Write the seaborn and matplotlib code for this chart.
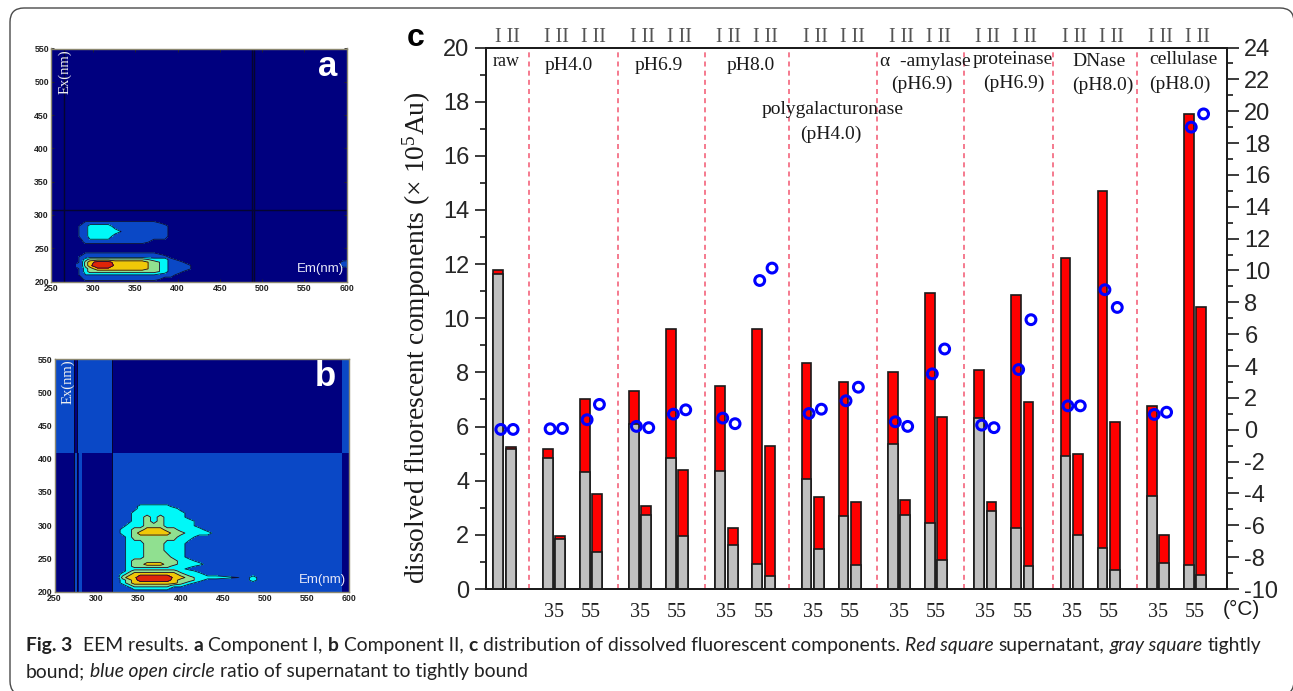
import numpy as np
import pandas as pd
import matplotlib
matplotlib.use('Agg')
import matplotlib.pyplot as plt
import seaborn as sns
from matplotlib.colors import ListedColormap
from matplotlib.patches import FancyBboxPatch
from matplotlib.transforms import IdentityTransform, blended_transform_factory

W, H = 1293, 691

# panel c, one pair of bars per temperature, I and II
pairs_in_group = [1, 2, 2, 2, 2, 2, 2, 2, 2]
temp_labels = ['', '35', '55', '35', '55', '35', '55', '35', '55', '35', '55', '35', '55', '35', '55', '35', '55']
bar_total = [11.78, 5.26, 5.17, 1.97, 7.02, 3.50, 7.30, 3.07, 9.59, 4.38, 7.50, 2.24, 9.59, 5.30,
             8.34, 3.41, 7.64, 3.23, 8.00, 3.27, 10.94, 6.37, 8.08, 3.23, 10.87, 6.91,
             12.22, 4.98, 14.70, 6.15, 6.75, 2.00, 17.55, 10.40]
bar_gray = [11.62, 5.17, 4.82, 1.85, 4.33, 1.35, 6.10, 2.75, 4.85, 1.96, 4.35, 1.63, 0.92, 0.47,
            4.07, 1.48, 2.70, 0.87, 5.36, 2.75, 2.42, 1.06, 6.31, 2.89, 2.26, 0.86,
            4.91, 2.00, 1.50, 0.70, 3.43, 0.95, 0.87, 0.50]
ratio = [0.02, 0.02, 0.06, 0.08, 0.63, 1.59, 0.21, 0.13, 0.98, 1.25, 0.73, 0.38, 9.37, 10.15,
         1.02, 1.29, 1.82, 2.67, 0.50, 0.21, 3.51, 5.07, 0.29, 0.13, 3.78, 6.91,
         1.50, 1.50, 8.79, 7.68, 0.96, 1.10, 19.00, 19.83]
separators = [2.5, 9.7, 16.8, 23.6, 30.7, 37.8, 45.0, 51.8]

em_a = [280, 286, 291, 296, 305, 318, 326, 340, 358, 372, 385, 392, 402, 411, 420, 586, 590, 596, 600]
ex_a = [200, 203, 210, 215, 219, 224, 229, 233, 237, 241, 245, 255, 259, 268, 275, 283, 288, 292]
eem_a = [
    [0, 0, 0, 0, 0, 0, 0, 0, 0, 0, 0, 0, 0, 0, 0, 0, 0, 0, 0],
    [0, 0, 1, 1, 1, 1, 1, 1, 1, 1, 0, 0, 0, 0, 0, 0, 0, 0, 0],
    [0, 1, 1.5, 1.5, 1.5, 1.5, 1.5, 1.5, 1.5, 1.5, 1, 1, 0, 0, 0, 0, 0, 0, 0],
    [0, 1, 2, 3, 3, 3, 3, 3, 3, 3, 2, 1, 1, 0, 0, 0, 0, 0, 0],
    [0, 1, 2, 3, 4, 4, 4, 4, 4, 3, 2, 1, 1, 1, 0, 0, 0, 0, 0],
    [1, 1, 3, 4, 6, 6, 4, 4, 4, 3, 2, 1, 1, 1, 0, 0, 0, 1, 1],
    [0, 1, 3, 4, 5, 5, 4, 4, 4, 3, 2, 1, 1, 0, 0, 0, 0, 1, 1],
    [0, 1, 2, 3, 3, 3, 3, 3, 3, 2, 2, 1, 0, 0, 0, 0, 0, 0, 0],
    [0, 1, 1, 1, 1, 1, 1, 1, 1, 1, 1, 0, 0, 0, 0, 0, 0, 0, 0],
    [0, 0, 1, 1, 1, 1, 1, 1, 1, 1, 0, 0, 0, 0, 0, 0, 0, 0, 0],
    [0, 0, 0, 0, 0, 0, 0, 0, 0, 0, 0, 0, 0, 0, 0, 0, 0, 0, 0],
    [0, 0, 0, 0, 0, 0, 0, 0, 0, 0, 0, 0, 0, 0, 0, 0, 0, 0, 0],
    [0, 0, 1, 1, 1, 1, 1, 1, 1, 0, 0, 0, 0, 0, 0, 0, 0, 0, 0],
    [0, 1, 1, 2, 2, 2, 1, 1, 1, 1, 1, 0, 0, 0, 0, 0, 0, 0, 0],
    [0, 1, 1, 2, 2, 2, 2, 1, 1, 1, 1, 0, 0, 0, 0, 0, 0, 0, 0],
    [0, 1, 1, 2, 2, 2, 1, 1, 1, 1, 1, 0, 0, 0, 0, 0, 0, 0, 0],
    [0, 0, 1, 1, 1, 1, 1, 1, 1, 1, 0, 0, 0, 0, 0, 0, 0, 0, 0],
    [0, 0, 0, 0, 0, 0, 0, 0, 0, 0, 0, 0, 0, 0, 0, 0, 0, 0, 0],
]

# panel b, same idea, zero is the blue background
em_b = [325, 331, 338, 345, 352, 360, 368, 376, 384, 392, 400, 410, 422, 432, 442, 480, 486, 492]
ex_b = [200, 205, 209, 213, 217, 221, 226, 231, 234, 238, 241, 246, 252, 262, 272, 282, 288,
        293, 299, 306, 312, 318, 325, 328, 333]
eem_b = [
    [0, 0, 0, 0, 0, 0, 0, 0, 0, 0, 0, 0, 0, 0, 0, 0, 0, 0],
    [0, 0, 0, 1, 1, 1, 1, 1, 1, 0, 0, 0, 0, 0, 0, 0, 0, 0],
    [0, 0, 1, 2, 2, 2, 2, 2, 2, 1, 1, 0, 0, 0, 0, 0, 0, 0],
    [0, 1, 2, 3, 3, 3, 3, 3, 3, 3, 2, 1, 0, 0, 0, 0, 0, 0],
    [0, 1, 2, 3, 4, 4, 4, 4, 4, 3, 2, 2, 1, 0, 0, 0.3, 1, 0.3],
    [0, 2, 3, 3, 5, 5, 5, 5, 5, 3, 3, 2, 1, 1, 1, 0.3, 1, 0.3],
    [0, 1, 2, 3, 3, 3, 3, 3, 3, 3, 2, 1, 1, 0, 0, 0, 0, 0],
    [0, 0, 1, 2, 2, 2, 2, 2, 2, 2, 1, 1, 0, 0, 0, 0, 0, 0],
    [0, 0, 1, 1, 1, 1, 1, 1, 1, 1, 1, 0, 0, 0, 0, 0, 0, 0],
    [0, 0, 1, 2, 2, 2, 2, 2, 2, 1, 1, 1, 0, 0, 0, 0, 0, 0],
    [0, 0, 1, 2, 2, 3, 3, 3, 2, 2, 1, 1, 1, 0, 0, 0, 0, 0],
    [0, 0, 1, 2, 2, 2, 2, 2, 2, 2, 1, 1, 0, 0, 0, 0, 0, 0],
    [0, 0, 1, 1, 1, 2, 2, 2, 2, 1, 1, 0, 0, 0, 0, 0, 0, 0],
    [0, 0, 1, 1, 1, 2, 2, 2, 1, 1, 1, 0, 0, 0, 0, 0, 0, 0],
    [0, 0, 1, 1, 1, 2, 2, 2, 1, 1, 1, 0, 0, 0, 0, 0, 0, 0],
    [0, 0, 1, 2, 2, 2, 2, 2, 2, 2, 1, 1, 0, 0, 0, 0, 0, 0],
    [0, 1, 1, 2, 3, 3, 3, 3, 3, 2, 2, 1, 1, 1, 0, 0, 0, 0],
    [0, 1, 1, 2, 2, 3, 3, 3, 2, 2, 1, 1, 1, 0, 0, 0, 0, 0],
    [0, 0, 1, 1, 1, 2, 2, 2, 1, 1, 1, 1, 0, 0, 0, 0, 0, 0],
    [0, 0, 0, 1, 1, 2, 1, 2, 1, 1, 1, 1, 0, 0, 0, 0, 0, 0],
    [0, 0, 0, 1, 1, 2, 1, 2, 1, 1, 1, 0, 0, 0, 0, 0, 0, 0],
    [0, 0, 0, 1, 1, 1, 1, 1, 1, 1, 1, 0, 0, 0, 0, 0, 0, 0],
    [0, 0, 0, 0, 1, 1, 1, 1, 1, 1, 0, 0, 0, 0, 0, 0, 0, 0],
    [0, 0, 0, 0, 1, 1, 1, 1, 1, 0, 0, 0, 0, 0, 0, 0, 0, 0],
    [0, 0, 0, 0, 0, 0, 0, 0, 0, 0, 0, 0, 0, 0, 0, 0, 0, 0],
]

# blocks behind the contours of panel b
block_em = [250, 273.4, 277.3, 279.7, 282.5, 318, 591.2, 600]
block_ex = [200, 408, 550]
block_on = [[0, 1, 0, 1, 0, 1, 0],
            [1, 0, 1, 1, 1, 0, 1]]

NAVY = '#00007f'
BLUE = '#0a48c6'
CYAN = '#00f8f8'
GREEN = '#90e090'
YELLOW = '#f0c808'
RED_EEM = '#e02408'
SERIF = 'Liberation Serif'
SANS = 'Liberation Sans'

sns.set_theme(style='ticks')
plt.rcParams['font.family'] = SANS
plt.rcParams['mathtext.default'] = 'regular'
plt.rcParams['axes.unicode_minus'] = False

fig = plt.figure(figsize=(W / 100, H / 100), dpi=100, facecolor='white')


def add_axes_px(left, top, right, bottom):
    return fig.add_axes([left / W, 1 - bottom / H, (right - left) / W, (bottom - top) / H])


def text_px(x, y, s, **kw):
    kw.setdefault('ha', 'center')
    kw.setdefault('va', 'center')
    return fig.text(x / W, 1 - y / H, s, **kw)


# card frame around the figure
frame = FancyBboxPatch((22, H - 683), 1260, 663, boxstyle='round,pad=12,rounding_size=14',
                       transform=IdentityTransform(), fc='none', ec='#4a4a4a', lw=1.0, clip_on=False)
fig.add_artist(frame)


def style_eem(ax):
    ax.set_xlim(250, 600)
    ax.set_ylim(200, 550)
    ax.set_xticks(np.arange(250, 601, 50))
    ax.set_yticks(np.arange(200, 551, 50))
    ax.tick_params(direction='in', length=2, width=0.6, labelsize=6.3, pad=1.5, color='#222222', top=True, right=True)
    for lab in ax.get_xticklabels() + ax.get_yticklabels():
        lab.set_fontweight('bold')
        lab.set_color('#222222')
    for sp in ax.spines.values():
        sp.set_color('#8c8870')
        sp.set_linewidth(1.0)
    ax.set_xlabel('')
    ax.set_ylabel('')


# panel a
ax_a = add_axes_px(51, 48.5, 346.5, 281.5)
ax_a.set_facecolor(NAVY)
ax_a.contourf(em_a, ex_a, eem_a, levels=[0.5, 1.5, 2.5, 3.5, 4.5, 99],
              colors=[BLUE, CYAN, GREEN, YELLOW, RED_EEM])
ax_a.contour(em_a, ex_a, eem_a, levels=[0.5, 1.5, 2.5, 3.5, 4.5], colors='#101030', linewidths=0.6)
ax_a.axvline(265.4, color='#050530', lw=1.0)
ax_a.axvline(487.5, color='#050530', lw=1.0)
ax_a.axvline(490.7, color='#050530', lw=1.0)
ax_a.axhline(307.5, color='#050530', lw=1.0)
style_eem(ax_a)
text_px(328, 66, 'a', color='white', fontweight='bold', fontsize=25)
text_px(64.5, 72, 'Ex(nm)', color='#f0f0f0', family=SERIF, rotation=90, fontsize=10.5)
text_px(320.5, 269, 'Em(nm)', color='#e8e8f8', fontsize=9.5)

# panel b
ax_b = add_axes_px(54.5, 359, 349, 591.5)
ax_b.pcolormesh(block_em, block_ex, block_on, cmap=ListedColormap([NAVY, BLUE]), vmin=0, vmax=1)
ax_b.contourf(em_b, ex_b, eem_b, levels=[0.5, 1.5, 2.5, 3.5, 99], colors=[CYAN, GREEN, YELLOW, RED_EEM])
ax_b.contour(em_b, ex_b, eem_b, levels=[0.5, 1.5, 2.5, 3.5], colors='#101030', linewidths=0.6)
ax_b.axvline(273.4, color='#050530', lw=0.7)
ax_b.axvline(277.3, color='#050530', lw=0.7)
ax_b.axvline(318, color='#050530', lw=0.7)
style_eem(ax_b)
text_px(325.5, 377, 'b', color='white', fontweight='bold', fontsize=25)
text_px(68, 382, 'Ex(nm)', color='#f0f0f0', family=SERIF, rotation=90, fontsize=10.5)
text_px(322.5, 580, 'Em(nm)', color='#e8e8f8', fontsize=9.5)

# panel c, bar slots: 1 within a pair, 3 between pairs, 4 between groups
positions = []
pair_centres = []
slot = 0
for n_pairs in pairs_in_group:
    for i in range(n_pairs):
        positions += [slot, slot + 1]
        pair_centres.append(slot + 0.5)
        slot += 3
    slot += 1

df = pd.DataFrame({'pos': positions, 'total': bar_total, 'gray': bar_gray, 'ratio': ratio})

ax = add_axes_px(486, 47.5, 1227, 589)
sns.barplot(data=df, x='pos', y='total', native_scale=True, width=0.8, color='#ff0000', saturation=1,
            edgecolor='#1a1a1a', linewidth=1.2, errorbar=None, ax=ax, zorder=2)
sns.barplot(data=df, x='pos', y='gray', native_scale=True, width=0.8, color='#c0c0c0', saturation=1,
            edgecolor='#1a1a1a', linewidth=1.2, errorbar=None, ax=ax, zorder=3)
for x in separators:
    ax.axvline(x, color='#f4647c', lw=1.2, dashes=(3, 2.5), zorder=1)

ax.set_xlim(-1, 59.1)
ax.set_ylim(0, 20)
ax.set_xlabel('')
ax.set_ylabel('')
ax.set_xticks(pair_centres)
ax.set_xticklabels(temp_labels, family=SERIF, fontsize=14.5, color='#222222')
ax.tick_params(axis='x', length=0, pad=10)
ax.set_yticks(np.arange(0, 21, 2))
ax.set_yticks(np.arange(0, 21, 1), minor=True)
ax.tick_params(axis='y', which='major', length=8, width=1.2, labelsize=17, pad=4, color='#1a1a1a')
ax.tick_params(axis='y', which='minor', length=4.5, width=1.2, color='#1a1a1a')

ax2 = ax.twinx()
sns.scatterplot(x=df['pos'] + 0.2, y=df['ratio'], ax=ax2, s=50, marker='o', color='#0000ff', linewidth=2.2,
                zorder=5, clip_on=False, legend=False)
ax2.collections[0].set_facecolor('none')
ax2.collections[0].set_edgecolor('#0000ff')
ax2.set_xlim(-1, 59.1)
ax2.set_ylim(-10, 24)
ax2.set_ylabel('')
ax2.set_yticks(np.arange(-10, 25, 2))
ax2.set_yticks(np.arange(-10, 25, 1), minor=True)
ax2.tick_params(axis='y', which='major', length=8.5, width=1.2, labelsize=17, pad=4, color='#1a1a1a')
ax2.tick_params(axis='y', which='minor', length=4.5, width=1.2, color='#1a1a1a')
for a in (ax, ax2):
    for sp in a.spines.values():
        sp.set_linewidth(1.3)
        sp.set_color('#1a1a1a')

# I II above every pair
top_trans = blended_transform_factory(ax.transData, fig.transFigure)
for c in pair_centres:
    fig.text(c + 0.2, 1 - 37 / H, 'I II', transform=top_trans, ha='center', va='center',
             family=SERIF, fontsize=14.5, color='#555555')

group_text = [(505.7, 62, 'raw'), (569, 65, 'pH4.0'), (658.3, 65, 'pH6.9'), (750.7, 65, 'pH8.0'),
              (833, 110, 'polygalacturonase'), (831, 134, '(pH4.0)'),
              (925.7, 61, '\u03b1  -amylase'), (921.7, 84, '(pH6.9)'),
              (1013, 59, 'proteinase'), (1014, 83, '(pH6.9)'),
              (1099, 61, 'DNase'), (1103.3, 85, '(pH8.0)'),
              (1183, 60, 'cellulase'), (1180, 84, '(pH8.0)')]
for gx, gy, s in group_text:
    text_px(gx, gy, s, family=SERIF, fontsize=13 if s == 'raw' else 14, color='#1a1a1a')

text_px(417, 338, 'dissolved fluorescent components (\u00d7 10$^{5}$Au)', family=SERIF, fontsize=19.8,
        rotation=90, color='#1a1a1a')
text_px(416, 38, 'c', fontweight='bold', fontsize=23, color='black')
text_px(1241, 609, '(\u00b0C)', fontsize=15, color='#1a1a1a')

# caption, pieces of different weight set one after the other
renderer = fig.canvas.get_renderer()


def caption_line(x, base_y, pieces, size=13.9, family='Lato'):
    for s, weight, style, gap in pieces:
        t = text_px(x, base_y, s, ha='left', va='baseline', family=family, fontsize=size,
                    fontweight=weight, fontstyle=style, color='#222222')
        x += t.get_window_extent(renderer).width + gap


N, B, I = 'normal', 'bold', 'italic'
caption_line(26, 651, [('Fig. 3', B, N, 11), ('EEM results.', N, N, 5), ('a', B, N, 5), ('Component I,', N, N, 5),
                       ('b', B, N, 5), ('Component II,', N, N, 5), ('c', B, N, 5),
                       ('distribution of dissolved fluorescent components.', N, N, 5),
                       ('Red square', N, I, 5), ('supernatant,', N, N, 5), ('gray square', N, I, 5), ('tightly', N, N, 0)])
caption_line(26, 677, [('bound;', N, N, 5), ('blue open circle', N, I, 5), ('ratio of supernatant to tightly bound', N, N, 0)])

fig.savefig('out.png', dpi=100)
